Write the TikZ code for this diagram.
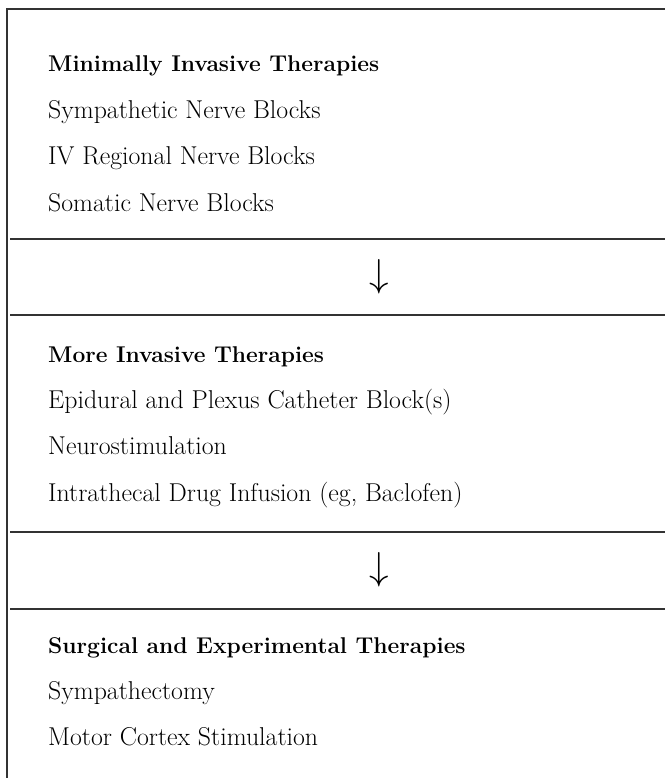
\documentclass[tikz,border=0pt]{standalone}
\usepackage{fix-cm}
\usepackage{tikz}
\usetikzlibrary{positioning}

\tikzset{
  rule/.style={line width=1.6pt, draw=black!80},
  heading/.style={inner sep=0pt, anchor=base west, text height=17pt, text depth=5pt,
    font=\fontsize{22.8}{28}\selectfont\bfseries},
  item/.style={inner sep=0pt, text height=17pt, text depth=5pt,
    font=\fontsize{25.8}{30}\selectfont},
  stepdown/.style={inner sep=0pt, font=\fontsize{39}{39}\selectfont}
}

\begin{document}
\begin{tikzpicture}[x=1pt, y=-1pt]
    \useasboundingbox (0,0) rectangle (665,778);

    % frame and separators
    \draw[rule] (7,778) -- (7,9) -- (665,9);
    \draw[rule] (10,239) -- (665,239);
    \draw[rule] (10,315) -- (665,315);
    \draw[rule] (10,532) -- (665,532);
    \draw[rule] (10,609) -- (665,609);

    \node[heading] (minimal) at (48,72) {Minimally Invasive Therapies};
    \node[item, below right=24pt and 0pt of minimal.south west] (sympblock) {Sympathetic Nerve Blocks};
    \node[item, below right=24pt and 0pt of sympblock.south west] (ivblock) {IV Regional Nerve Blocks};
    \node[item, below right=24pt and 0pt of ivblock.south west] (somblock) {Somatic Nerve Blocks};

    \node[stepdown] (down1) at (379,277) {$\downarrow$};

    \node[heading] (more) at (48,362) {More Invasive Therapies};
    \node[item, below right=24pt and 0pt of more.south west] (epidural) {Epidural and Plexus Catheter Block(s)};
    \node[item, below right=24pt and 0pt of epidural.south west] (neurostim) {Neurostimulation};
    \node[item, below right=24pt and 0pt of neurostim.south west] (intrathecal) {Intrathecal Drug Infusion (eg, Baclofen)};

    \node[stepdown] (down2) at (379,570) {$\downarrow$};

    \node[heading] (surgical) at (48,653) {Surgical and Experimental Therapies};
    \node[item, below right=24pt and 0pt of surgical.south west] (sympath) {Sympathectomy};
    \node[item, below right=24pt and 0pt of sympath.south west] (motor) {Motor Cortex Stimulation};

\end{tikzpicture}
\end{document}
